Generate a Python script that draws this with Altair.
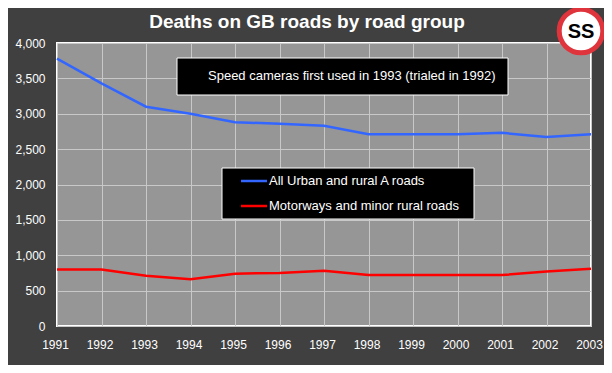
import altair as alt
import pandas as pd

years = list(range(1991, 2004))
urban_a = [3780, 3430, 3100, 3000, 2880, 2860, 2830, 2710, 2710, 2710, 2730, 2670, 2710]
motorway_minor = [800, 800, 710, 660, 740, 750, 780, 720, 720, 720, 720, 770, 810]
series_names = ["All Urban and rural A roads", "Motorways and minor rural roads"]
series_colors = ["#3366ff", "#ff0000"]
y_ticks = [0, 500, 1000, 1500, 2000, 2500, 3000, 3500, 4000]

rows = []
for y, a, m in zip(years, urban_a, motorway_minor):
    rows.append({"year": y, "deaths": a, "series": series_names[0]})
    rows.append({"year": y, "deaths": m, "series": series_names[1]})
df = pd.DataFrame(rows)

FONT = "Liberation Sans"
W, H = 534, 283

lines = alt.Chart(df).mark_line(strokeWidth=2.5).encode(
    x=alt.X("year:Q", scale=alt.Scale(domain=[1991, 2003], nice=False, zero=False),
            axis=alt.Axis(values=years, format="d", title=None, ticks=False, domain=False,
                          labelColor="white", labelFont=FONT, labelFontSize=12,
                          labelPadding=13, labelOffset=-2, gridColor="#c8c8c8", gridWidth=1,
                          labelFlush=False)),
    y=alt.Y("deaths:Q", scale=alt.Scale(domain=[0, 4000], nice=False),
            axis=alt.Axis(values=y_ticks, format=",d", title=None, ticks=False, domain=False,
                          labelColor="white", labelFont=FONT, labelFontSize=12,
                          labelPadding=12, gridColor="#c8c8c8", gridWidth=1)),
    color=alt.Color("series:N", scale=alt.Scale(domain=series_names, range=series_colors),
                    legend=None),
)

# Annotation box
note_box = alt.Chart().mark_rect(color="black", stroke="white", strokeWidth=1).encode(
    x=alt.value(120), x2=alt.value(451), y=alt.value(15), y2=alt.value(52))
note_text = alt.Chart().mark_text(text="Speed cameras first used in 1993 (trialed in 1992)",
                                  color="white", font=FONT, fontSize=13, align="left",
                                  baseline="middle").encode(x=alt.value(151), y=alt.value(33))

# Legend box
leg_box = alt.Chart().mark_rect(color="black", stroke="white", strokeWidth=1).encode(
    x=alt.value(165), x2=alt.value(417), y=alt.value(125), y2=alt.value(176))
leg_line1 = alt.Chart().mark_rule(color=series_colors[0], strokeWidth=2.5).encode(
    x=alt.value(184), x2=alt.value(210), y=alt.value(138))
leg_line2 = alt.Chart().mark_rule(color=series_colors[1], strokeWidth=2.5).encode(
    x=alt.value(184), x2=alt.value(210), y=alt.value(163))
leg_t1 = alt.Chart().mark_text(text=series_names[0], color="white", font=FONT, fontSize=13,
                               align="left", baseline="middle").encode(x=alt.value(212), y=alt.value(138))
leg_t2 = alt.Chart().mark_text(text=series_names[1], color="white", font=FONT, fontSize=13,
                               align="left", baseline="middle").encode(x=alt.value(212), y=alt.value(163))

# Title
title = alt.Chart().mark_text(text="Deaths on GB roads by road group", color="white", font=FONT,
                              fontSize=19, fontWeight="bold", align="center",
                              baseline="alphabetic").encode(x=alt.value(250), y=alt.value(-15))

# Logo
logo_circle = alt.Chart().mark_point(shape="circle", filled=True, fill="white", stroke="#e0343c",
                                     strokeWidth=5, opacity=1, size=1900).encode(
    x=alt.value(524), y=alt.value(-12))
logo_text = alt.Chart().mark_text(text="SS", color="black", font=FONT, fontSize=20,
                                  fontWeight="bold", align="center", baseline="middle").encode(
    x=alt.value(524), y=alt.value(-11))

chart = alt.layer(lines, note_box, note_text, leg_box, leg_line1, leg_line2, leg_t1, leg_t2,
                  title, logo_circle, logo_text).properties(
    width=W, height=H, background="#404040",
    padding={"left": 49, "top": 35, "right": 13, "bottom": 39},
    autosize=alt.AutoSizeParams(type="none"),
).configure_view(fill="#969696", stroke="white", strokeWidth=2)

chart.save("out.html", embed_options={"renderer": "svg", "actions": False})
